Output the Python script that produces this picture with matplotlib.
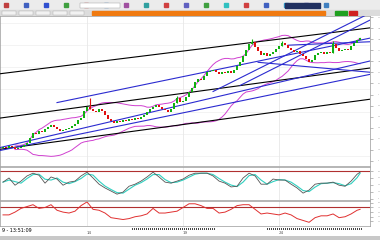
import numpy as np
import pandas as pd
import matplotlib
matplotlib.use("Agg")
import matplotlib.pyplot as plt
from matplotlib.patches import Rectangle

# Schlusskurse (Index-Punkte), eine Kerze pro Eintrag
closes = [19, 18, 20, 19, 17, 18, 19, 21, 23, 28,
          33, 32, 35, 34, 37, 39, 41, 39, 37, 35,
          36, 37, 38, 40, 42, 46, 48, 55, 59, 57,
          55, 54, 57, 55, 51, 47, 45, 43, 45, 44,
          46, 45, 47, 46, 48, 47, 49, 51, 54, 57,
          59, 61, 59, 57, 56, 54, 57, 63, 68, 64,
          65, 69, 74, 77, 83, 86, 85, 89, 93, 94,
          95, 93, 91, 93, 92, 94, 92, 95, 99, 103,
          109, 115, 121, 123, 118, 114, 110, 112, 109, 111,
          113, 116, 119, 122, 120, 117, 115, 113, 114, 111,
          109, 106, 103, 105, 110, 112, 113, 111, 113, 112,
          121, 117, 114, 115, 116, 115, 119, 122, 125, 127]
first_open = 18
# lange Dochte
spike_idx = [29, 58, 83, 93, 110]
spike_high = [68, 70, 126, 124, 124]

# Trendlinien: (start_i, start_v, durch_i, durch_v, farbe)
trendlinien = [
    (0, 92, 119, 136, "black"),
    (0, 48, 119, 96, "black"),
    (0, 17, 119, 65, "black"),
    (18, 63, 119, 125, "#2b2bd0"),
    (0, 19, 119, 102, "#2b2bd0"),
    (0, 16, 119, 89, "#2b2bd0"),
    (70, 74, 119, 147, "#2b2bd0"),
    (79, 80, 119, 140, "#2b2bd0"),
    (85, 103, 119, 94, "#2b2bd0"),
    (95, 120, 119, 123, "#2b2bd0"),
]

# Stochastik (jede 2. Kerze + letzte)
stoch = [48, 60, 39, 51, 66, 74, 68, 45, 63, 57,
         39, 48, 51, 66, 77, 60, 42, 31, 22, 13,
         19, 36, 42, 51, 63, 77, 63, 48, 45, 51,
         57, 68, 74, 74, 74, 66, 51, 45, 34, 36,
         60, 74, 66, 42, 42, 57, 54, 54, 42, 31,
         16, 25, 42, 45, 45, 48, 39, 36, 51, 71, 77]
# RSI (jede 2. Kerze + letzte)
rsi = [54, 54, 60, 68, 72, 76, 68, 70, 76, 64,
       60, 58, 62, 74, 82, 66, 64, 58, 48, 46,
       44, 46, 50, 52, 56, 68, 58, 58, 60, 62,
       70, 78, 78, 74, 68, 68, 58, 60, 66, 74,
       76, 76, 66, 56, 58, 56, 54, 58, 54, 46,
       42, 38, 48, 52, 52, 56, 48, 50, 56, 64, 66]
stoch_level = 80
rsi_level = 70

datum_idx = [28, 60, 92]
datum_txt = ["14", "19", "24"]

W, H = 380, 240


def rect(x0, y0, x1, y1):
    return [x0 / W, 1 - y1 / H, (x1 - x0) / W, (y1 - y0) / H]


def rahmen(a):
    a.yaxis.tick_right()
    a.tick_params(axis="y", length=2, width=0.4, colors="#888", labelsize=0)
    a.set_xticks([])
    for sp in a.spines.values():
        sp.set_color("#999")
        sp.set_linewidth(0.5)


fig = plt.figure(figsize=(3.8, 2.4), dpi=100)
fig.patch.set_facecolor("white")

n = len(closes)
idx = np.arange(n)
c = np.array(closes, dtype=float)
o = np.concatenate([[first_open], c[:-1]])
osc_x = np.append(np.arange(0, n, 2), n - 1)
xlim = (-1, 122.3)

# --- Toolbar oben ---
tb = fig.add_axes(rect(0, 0, 380, 16))
tb.set_xlim(0, 380)
tb.set_ylim(16, 0)
tb.axis("off")
tb.add_patch(Rectangle((0, 0), 380, 10, color="#ececec"))
tb.add_patch(Rectangle((0, 10), 380, 6, color="#dcdcdc"))
tb.add_patch(Rectangle((92, 11), 233, 4, color="#f07a10"))
icon_farben = ["#c04040", "#4060c0", "#3050d0", "#40a040", "#c04040", "#4080c0",
               "#a050a0", "#30a0a0", "#d04040", "#6060c0", "#40a040", "#30c0c0",
               "#d04040", "#4060c0", "#30a0d0", "#6060c0", "#4080c0"]
for k, f in enumerate(icon_farben):
    tb.add_patch(Rectangle((4 + k * 20, 3), 4, 4, color=f))
tb.add_patch(Rectangle((80, 2.5), 40, 5, color="white", ec="#999", lw=0.3))
tb.add_patch(Rectangle((285, 2.5), 35, 5, color="#203060"))
tb.add_patch(Rectangle((335, 11), 12, 4, color="#20a020"))
tb.add_patch(Rectangle((349, 11), 8, 4, color="#d02020"))
for k in range(5):
    tb.add_patch(Rectangle((2 + k * 17, 11), 14, 4, color="#f2f2f2", ec="#aaa", lw=0.3))

# --- Hauptchart ---
ax = fig.add_axes(rect(0, 16, 370, 166))
ax.set_xlim(*xlim)
ax.set_ylim(0, 149)
for y in range(10, 149, 22):
    ax.axhline(y, color="#eeeeee", lw=0.5, zorder=0)
for d in datum_idx:
    ax.axvline(d, color="#e8e8e8", lw=0.6, zorder=0)

# Bollinger
s = pd.Series(c)
mid = s.rolling(20, min_periods=5).mean()
sd = s.rolling(20, min_periods=5).std()
ax.plot(idx, mid + 2 * sd, color="#d040d0", lw=0.7, zorder=2)
ax.plot(idx, mid - 2 * sd, color="#d040d0", lw=0.7, zorder=2)

# Trendlinien
for i0, v0, i1, v1, farbe in trendlinien:
    steig = (v1 - v0) / (i1 - i0)
    xs = np.array([i0 if i0 > 0 else xlim[0], xlim[1]])
    ax.plot(xs, v0 + steig * (xs - i0), color=farbe, lw=0.8, zorder=3)

# Kerzen
farben = np.where(c >= o, "#10b010", "#e01010")
hoehe = np.maximum(np.abs(c - o), 0.7)
ax.vlines(spike_idx, [min(o[k], c[k]) for k in spike_idx], spike_high,
          color=[farben[k] for k in spike_idx], lw=0.8, zorder=4)
ax.bar(idx, hoehe, bottom=np.minimum(o, c), width=0.6, color=farben, zorder=4)
ax.set_yticks(range(5, 149, 11))
rahmen(ax)

# --- Stochastik ---
ax2 = fig.add_axes(rect(0, 167, 370, 200))
ax2.set_xlim(*xlim)
ax2.set_ylim(-4, 92)
ax2.axhline(stoch_level, color="#b03030", lw=0.8)
for d in datum_idx:
    ax2.axvline(d, color="#e8e8e8", lw=0.6, zorder=0)
st = pd.Series(stoch, dtype=float)
ax2.plot(osc_x, st.rolling(2, min_periods=1).mean(), color="#30d0c0", lw=0.8)
ax2.plot(osc_x, st, color="#555555", lw=0.6)
ax2.set_yticks([0, 20, 40, 60, 80])
rahmen(ax2)

# --- RSI ---
ax3 = fig.add_axes(rect(0, 201, 370, 226))
ax3.set_xlim(*xlim)
ax3.set_ylim(30, 84)
ax3.axhline(rsi_level, color="#b03030", lw=0.8)
for d in datum_idx:
    ax3.axvline(d, color="#e8e8e8", lw=0.6, zorder=0)
ax3.plot(osc_x, rsi, color="#e03030", lw=0.7)
ax3.set_yticks([40, 50, 60, 70, 80])
rahmen(ax3)

# --- Zeitachse ---
ax4 = fig.add_axes(rect(0, 226, 370, 236))
ax4.set_xlim(*xlim)
ax4.set_ylim(0, 1)
ax4.axis("off")
ax4.text(-0.5, 0.5, "9 - 13:51:09", fontsize=3.5, va="center", ha="left")
for d, t in zip(datum_idx, datum_txt):
    ax4.text(d, 0.3, t, fontsize=3, va="center", ha="left", color="#555")
ax4.plot([43, 71], [0.75, 0.75], color="#222", lw=1.2, ls=(0, (0.6, 0.6)))
ax4.plot([88, 119.5], [0.75, 0.75], color="#222", lw=1.2, ls=(0, (0.6, 0.6)))

bot = fig.add_axes(rect(0, 236, 380, 240))
bot.axis("off")
bot.add_patch(Rectangle((0, 0), 1, 1, color="#c8c8c8", transform=bot.transAxes))

fig.savefig("out.png", dpi=100)
